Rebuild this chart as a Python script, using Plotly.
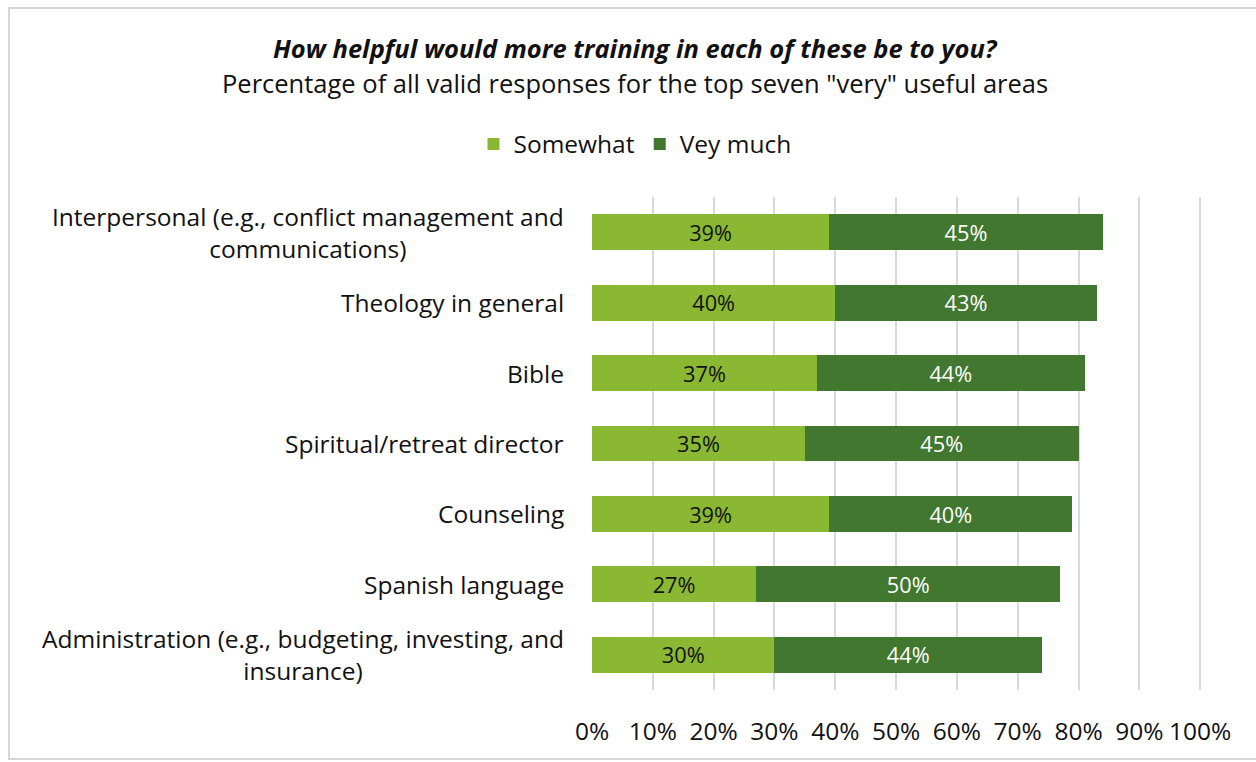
import plotly.graph_objects as go

categories = [
    "Interpersonal (e.g., conflict management and<br>communications)",
    "Theology in general",
    "Bible",
    "Spiritual/retreat director",
    "Counseling",
    "Spanish language",
    "Administration (e.g., budgeting, investing, and<br>insurance)",
]
somewhat = [39, 40, 37, 35, 39, 27, 30]
very_much = [45, 43, 44, 45, 40, 50, 44]
series_names = ["Somewhat", "Vey much"]
title_text = "How helpful would more training in each of these be to you?"
subtitle_text = 'Percentage of all valid responses for the top seven "very" useful areas'
tick_vals = [0, 10, 20, 30, 40, 50, 60, 70, 80, 90, 100]

FONT = "Open Sans"
FS = 24.5
FT = 25.5
W, H = 1256, 762
L, R, T, B = 592, 54, 197, 72
PW, PH = W - L - R, H - T - B

ids = list(range(len(categories)))

fig = go.Figure()
fig.add_trace(go.Bar(
    y=ids, x=somewhat, orientation="h", name=series_names[0],
    marker=dict(color="#8AB833", line=dict(width=0)),
    text=[f"{v}%" for v in somewhat], textposition="inside", insidetextanchor="middle",
    textfont=dict(color="#111111", size=24, family=FONT), textangle=0,
))
fig.add_trace(go.Bar(
    y=ids, x=very_much, orientation="h", name=series_names[1],
    marker=dict(color="#41772E", line=dict(width=0)),
    text=[f"{v}%" for v in very_much], textposition="inside", insidetextanchor="middle",
    textfont=dict(color="#ffffff", size=24, family=FONT), textangle=0,
))

for i, c in enumerate(categories):
    fig.add_annotation(
        x=-0.042, y=i, xref="paper", yref="y", text=c, showarrow=False,
        xanchor="right", yanchor="middle", align="center",
        font=dict(size=FS, family=FONT, color="#111111"),
    )

fig.add_annotation(x=(635 - L) / PW, y=(H - B - 48) / PH + 0, xref="paper", yref="paper",
                   text=f"<b><i>{title_text}</i></b>", showarrow=False,
                   xanchor="center", yanchor="middle",
                   font=dict(size=FT, family=FONT, color="#111111"))
fig.add_annotation(x=(635 - L) / PW, y=(H - B - 83) / PH, xref="paper", yref="paper",
                   text=subtitle_text, showarrow=False,
                   xanchor="center", yanchor="middle",
                   font=dict(size=FT, family=FONT, color="#111111"))

fig.add_shape(type="rect", xref="paper", yref="paper",
              x0=(9 - L) / PW, x1=(1262 - L) / PW,
              y0=(H - B - 759) / PH, y1=(H - B - 8) / PH,
              line=dict(color="#d6d6d6", width=2), fillcolor="rgba(0,0,0,0)", layer="below")

fig.update_layout(
    width=W, height=H,
    margin=dict(l=L, r=R, t=T, b=B),
    barmode="stack", bargap=0.49,
    plot_bgcolor="white", paper_bgcolor="white",
    font=dict(family=FONT, size=FS, color="#111111"),
    showlegend=True,
    legend=dict(orientation="h", x=(635 - L) / PW, xanchor="center",
                y=(H - B - 144) / PH, yanchor="middle",
                font=dict(size=FS, family=FONT), itemwidth=30, traceorder="normal"),
    xaxis=dict(range=[0, 100.3], tickvals=tick_vals, ticktext=[f"{v}%" for v in tick_vals],
               showgrid=True, gridcolor="#d9d9d9", gridwidth=2, zeroline=False,
               showline=False, ticks="outside", ticklen=20, tickcolor="rgba(0,0,0,0)",
               tickfont=dict(size=FS, family=FONT, color="#111111")),
    yaxis=dict(tickvals=ids, showticklabels=False, autorange=False,
               range=[len(categories) - 0.5, -0.5], showgrid=False, zeroline=False),
    uniformtext=dict(minsize=10, mode="show"),
)

fig.write_html("out.html")
